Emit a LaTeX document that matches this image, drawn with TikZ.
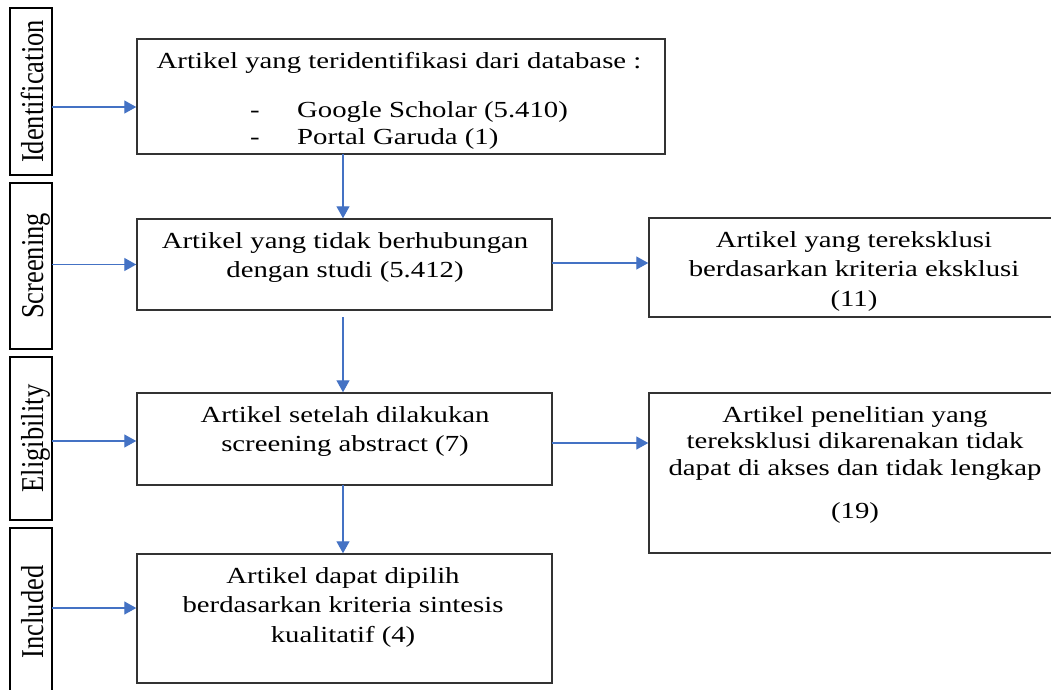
\documentclass[tikz,border=0pt]{standalone}
\usepackage{fontspec}
\setmainfont{Liberation Serif}
\usetikzlibrary{arrows.meta}
\definecolor{arrblue}{HTML}{4472C4}
\definecolor{boxgray}{HTML}{333333}
\newcommand{\wide}[1]{\scalebox{1.25}[1]{#1}}
\newcommand{\tall}[1]{\scalebox{1}[1.2]{#1}}
\begin{document}
\begin{tikzpicture}[x=1pt,y=-1pt,
  box/.style={draw=boxgray, line width=1.5pt, inner sep=0pt, rectangle},
  lblbox/.style={draw=black, line width=2.8pt, inner sep=0pt, rectangle, minimum width=42pt},
  txt/.style={anchor=base, inner sep=0pt, font=\fontsize{23}{27}\selectfont},
  txtw/.style={anchor=base west, inner sep=0pt, font=\fontsize{23}{27}\selectfont},
  lbl/.style={anchor=base, rotate=90, inner sep=0pt, font=\fontsize{26.5}{30}\selectfont},
  arr/.style={draw=arrblue, line width=1.4pt, -{Triangle[length=12pt,width=13pt]}}]
\useasboundingbox (0,0) rectangle (1051,689);
\fill[white] (0,0) rectangle (1051,689);

% stage label boxes
\node[lblbox, minimum height=167pt] (L1) at (31,91.5) {};
\node[lblbox, minimum height=166pt] (L2) at (31,266) {};
\node[lblbox, minimum height=163pt] (L3) at (31,438.5) {};
\node[lblbox, minimum height=169pt] (L4) at (31,612.5) {};
\node[lbl] (l1) at (43,91.5) {\tall{Identification}};
\node[lbl] (l2) at (43,266) {\tall{Screening}};
\node[lbl] (l3) at (43,438.5) {\tall{Eligibility}};
\node[lbl] (l4) at (43,612) {\tall{Included}};

% main boxes
\node[box, minimum width=528pt, minimum height=115pt] (B1) at (401,96.5) {};
\node[box, minimum width=415pt, minimum height=91pt] (B2) at (344.5,264.5) {};
\node[box, minimum width=415pt, minimum height=92pt] (B3) at (344.5,439) {};
\node[box, minimum width=415pt, minimum height=129pt] (B4) at (344.5,618.5) {};
\node[box, minimum width=407pt, minimum height=99pt] (R1) at (852.5,267.5) {};
\node[box, minimum width=407pt, minimum height=160pt] (R2) at (852.5,473) {};

% texts
\node[txt] (t1a) at (399,68) {\wide{Artikel yang teridentifikasi dari database :}};
\node[txt] (t1b) at (255,117) {\wide{-}};
\node[txtw] (t1c) at (297,117) {\wide{Google Scholar (5.410)}};
\node[txt] (t1d) at (255,144) {\wide{-}};
\node[txtw] (t1e) at (297,144) {\wide{Portal Garuda (1)}};

\node[txt] (t2a) at (345,248) {\wide{Artikel yang tidak berhubungan}};
\node[txt] (t2b) at (345,277) {\wide{dengan studi (5.412)}};

\node[txt] (t3a) at (345,422) {\wide{Artikel setelah dilakukan}};
\node[txt] (t3b) at (345,451) {\wide{screening abstract (7)}};

\node[txt] (t4a) at (343,583) {\wide{Artikel dapat dipilih}};
\node[txt] (t4b) at (343,612) {\wide{berdasarkan kriteria sintesis}};
\node[txt] (t4c) at (343,642) {\wide{kualitatif (4)}};

\node[txt] (r1a) at (854,247) {\wide{Artikel yang tereksklusi}};
\node[txt] (r1b) at (854,276) {\wide{berdasarkan kriteria eksklusi}};
\node[txt] (r1c) at (854,306) {\wide{(11)}};

\node[txt] (r2a) at (855,422) {\wide{Artikel penelitian yang}};
\node[txt] (r2b) at (855,448) {\wide{tereksklusi dikarenakan tidak}};
\node[txt] (r2c) at (855,475) {\wide{dapat di akses dan tidak lengkap}};
\node[txt] (r2d) at (855,518) {\wide{(19)}};

% connector start points
\coordinate (a1) at (52,107);
\coordinate (a2) at (52,264.5);
\coordinate (a3) at (52,441);
\coordinate (a4) at (52,608);
\coordinate (v1) at (343,154);
\coordinate (v2) at (343,317);
\coordinate (v3) at (343,485);
\coordinate (h1) at (552,263);
\coordinate (h2) at (552,443);

\draw[arr] (a1) -- (a1 -| B1.west);
\draw[arr] (a2) -- (a2 -| B2.west);
\draw[arr] (a3) -- (a3 -| B3.west);
\draw[arr] (a4) -- (a4 -| B4.west);
\draw[arr] (v1) -- (v1 |- B2.north);
\draw[arr] (v2) -- (v2 |- B3.north);
\draw[arr] (v3) -- (v3 |- B4.north);
\draw[arr] (h1) -- (h1 -| R1.west);
\draw[arr] (h2) -- (h2 -| R2.west);
\end{tikzpicture}
\end{document}
